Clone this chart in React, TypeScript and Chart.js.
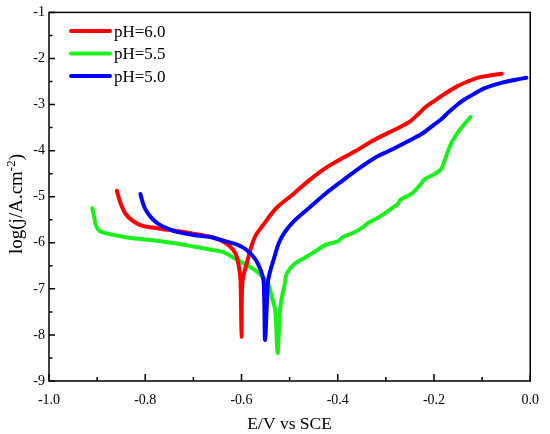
import React, { useEffect, useRef } from 'react';
import { Chart, registerables } from 'chart.js';

Chart.register(...registerables);

// pH = 6.0
const ph60E = [-0.859, -0.852, -0.841, -0.825, -0.807, -0.785, -0.766, -0.730, -0.697, -0.665, -0.643, -0.625, -0.613, -0.606, -0.602, -0.600, -0.598, -0.588, -0.580, -0.571, -0.554, -0.527, -0.492, -0.460, -0.424, -0.390, -0.363, -0.330, -0.294, -0.253, -0.233, -0.218, -0.199, -0.175, -0.151, -0.130, -0.110, -0.085, -0.059];
const ph60LogJ = [-4.87, -5.12, -5.37, -5.53, -5.63, -5.67, -5.70, -5.75, -5.81, -5.87, -5.95, -6.07, -6.22, -6.48, -6.82, -8.04, -6.85, -6.40, -6.10, -5.85, -5.60, -5.24, -4.94, -4.65, -4.37, -4.16, -4.01, -3.80, -3.61, -3.39, -3.21, -3.06, -2.92, -2.75, -2.60, -2.50, -2.42, -2.37, -2.33];

// pH = 5.5
const ph55E = [-0.910, -0.906, -0.902, -0.895, -0.882, -0.860, -0.834, -0.780, -0.732, -0.700, -0.663, -0.639, -0.615, -0.595, -0.571, -0.555, -0.544, -0.537, -0.530, -0.525, -0.520, -0.516, -0.510, -0.506, -0.489, -0.469, -0.455, -0.424, -0.400, -0.390, -0.363, -0.345, -0.335, -0.315, -0.294, -0.275, -0.270, -0.247, -0.230, -0.219, -0.199, -0.185, -0.178, -0.165, -0.150, -0.137, -0.124];
const ph55LogJ = [-5.25, -5.45, -5.63, -5.74, -5.79, -5.84, -5.89, -5.95, -6.02, -6.08, -6.15, -6.20, -6.33, -6.45, -6.60, -6.75, -6.90, -7.18, -7.46, -8.40, -7.46, -7.18, -6.89, -6.67, -6.45, -6.33, -6.24, -6.04, -5.97, -5.88, -5.76, -5.64, -5.56, -5.45, -5.30, -5.16, -5.07, -4.94, -4.76, -4.62, -4.51, -4.40, -4.22, -3.86, -3.60, -3.43, -3.27];

// pH = 5.0
const ph50E = [-0.810, -0.806, -0.800, -0.788, -0.773, -0.752, -0.732, -0.700, -0.663, -0.639, -0.609, -0.590, -0.571, -0.560, -0.554, -0.551, -0.545, -0.540, -0.533, -0.523, -0.510, -0.490, -0.458, -0.425, -0.390, -0.363, -0.322, -0.294, -0.253, -0.226, -0.199, -0.185, -0.171, -0.151, -0.137, -0.120, -0.096, -0.060, -0.030, -0.008];
const ph50LogJ = [-4.94, -5.10, -5.27, -5.45, -5.59, -5.70, -5.77, -5.83, -5.88, -5.95, -6.04, -6.15, -6.36, -6.60, -6.85, -8.11, -6.85, -6.60, -6.36, -6.02, -5.77, -5.52, -5.23, -4.93, -4.65, -4.44, -4.15, -4.01, -3.79, -3.64, -3.43, -3.32, -3.18, -3.00, -2.89, -2.79, -2.65, -2.53, -2.46, -2.42];

const seriesLabels = ['pH=6.0', 'pH=5.5', 'pH=5.0'];
const seriesColors = ['#ff0000', '#1cf01c', '#0000ff'];

const xMajorTicks = [-1.0, -0.8, -0.6, -0.4, -0.2, 0.0];
const yMajorTicks = [-9, -8, -7, -6, -5, -4, -3, -2, -1];

const FONT = '"Liberation Serif", "Times New Roman", serif';

const toPoints = (xs: number[], ys: number[]) => xs.map((x, i) => ({ x, y: ys[i] }));

// frame, inward ticks, axis titles and the legend
const decorPlugin = {
  id: 'decor',
  afterDraw(chart: any) {
    const { ctx, chartArea: a, scales } = chart;
    const xs = scales.x;
    const ys = scales.y;
    ctx.save();
    ctx.strokeStyle = '#000';
    ctx.lineWidth = 1.5;
    ctx.strokeRect(a.left, a.top, a.right - a.left, a.bottom - a.top);

    ctx.lineWidth = 1.5;
    ctx.beginPath();
    xMajorTicks.forEach((v, i) => {
      const px = xs.getPixelForValue(v);
      ctx.moveTo(px, a.bottom);
      ctx.lineTo(px, a.bottom - 7);
      if (i < xMajorTicks.length - 1) {
        const mx = xs.getPixelForValue(v + 0.1);
        ctx.moveTo(mx, a.bottom);
        ctx.lineTo(mx, a.bottom - 4);
      }
    });
    yMajorTicks.forEach((v, i) => {
      const py = ys.getPixelForValue(v);
      ctx.moveTo(a.left, py);
      ctx.lineTo(a.left + 6, py);
      if (i < yMajorTicks.length - 1) {
        const my = ys.getPixelForValue(v + 0.5);
        ctx.moveTo(a.left, my);
        ctx.lineTo(a.left + 3.5, my);
      }
    });
    ctx.stroke();

    // x title
    ctx.fillStyle = '#000';
    ctx.font = `17.5px ${FONT}`;
    ctx.textAlign = 'center';
    ctx.textBaseline = 'alphabetic';
    ctx.fillText('E/V vs SCE', (a.left + a.right) / 2, 429);

    // y title with superscript
    ctx.save();
    ctx.translate(22, 204);
    ctx.rotate(-Math.PI / 2);
    const mainFont = `19px ${FONT}`;
    const supFont = `13px ${FONT}`;
    const p1 = 'log(j/A.cm';
    const sup = '-2';
    const p2 = ')';
    ctx.font = mainFont;
    const w1 = ctx.measureText(p1).width;
    const w3 = ctx.measureText(p2).width;
    ctx.font = supFont;
    const w2 = ctx.measureText(sup).width;
    let x0 = -(w1 + w2 + w3) / 2;
    ctx.textAlign = 'left';
    ctx.font = mainFont;
    ctx.fillText(p1, x0, 0);
    x0 += w1;
    ctx.font = supFont;
    ctx.fillText(sup, x0, -7);
    x0 += w2;
    ctx.font = mainFont;
    ctx.fillText(p2, x0, 0);
    ctx.restore();

    // legend
    chart.data.datasets.forEach((ds: any, i: number) => {
      const ly = 31 + i * 22.5;
      ctx.strokeStyle = ds.borderColor;
      ctx.lineWidth = 4;
      ctx.lineCap = 'round';
      ctx.beginPath();
      ctx.moveTo(71, ly);
      ctx.lineTo(110, ly);
      ctx.stroke();
      ctx.fillStyle = '#000';
      ctx.font = `17px ${FONT}`;
      ctx.textAlign = 'left';
      ctx.textBaseline = 'alphabetic';
      ctx.fillText(ds.label, 114, ly + 5.5);
    });
    ctx.restore();
  },
};

const PolarizationChart: React.FC = () => {
  const canvasRef = useRef<HTMLCanvasElement>(null);
  const chartRef = useRef<Chart | null>(null);

  useEffect(() => {
    if (!canvasRef.current) return;
    if (chartRef.current) chartRef.current.destroy();

    const seriesData = [
      toPoints(ph60E, ph60LogJ),
      toPoints(ph55E, ph55LogJ),
      toPoints(ph50E, ph50LogJ),
    ];
    const drawOrder = [1, 2, 0];

    chartRef.current = new Chart(canvasRef.current, {
      type: 'line',
      data: {
        datasets: seriesData.map((data, i) => ({
          label: seriesLabels[i],
          data,
          borderColor: seriesColors[i],
          backgroundColor: seriesColors[i],
          borderWidth: 4,
          pointRadius: 0,
          tension: 0.3,
          borderCapStyle: 'round',
          borderJoinStyle: 'round',
          order: drawOrder[i],
          fill: false,
        })),
      },
      options: {
        animation: false,
        responsive: true,
        maintainAspectRatio: false,
        layout: { padding: { top: 11, right: 13, left: 0, bottom: 0 } },
        plugins: {
          legend: { display: false },
          tooltip: { enabled: false },
        },
        scales: {
          x: {
            type: 'linear',
            min: -1,
            max: 0,
            grid: { display: false, drawTicks: false },
            border: { display: false },
            ticks: {
              stepSize: 0.2,
              padding: 11,
              color: '#000',
              font: { family: FONT, size: 14 },
              callback: (v: any) => (Math.abs(Number(v)) < 1e-9 ? '0.0' : Number(v).toFixed(1)),
            },
            afterFit: (s: any) => {
              s.height = 53;
            },
          },
          y: {
            type: 'linear',
            min: -9,
            max: -1,
            grid: { display: false, drawTicks: false },
            border: { display: false },
            ticks: {
              stepSize: 1,
              padding: 4,
              color: '#000',
              font: { family: FONT, size: 14 },
              callback: (v: any) => String(Math.round(Number(v))),
            },
            afterFit: (s: any) => {
              s.width = 49;
            },
          },
        },
      },
      plugins: [decorPlugin],
    } as any);

    return () => {
      if (chartRef.current) {
        chartRef.current.destroy();
        chartRef.current = null;
      }
    };
  }, []);

  return (
    <div style={{ position: 'absolute', left: 0, top: 0, width: 550, height: 434, background: '#fff' }}>
      <canvas ref={canvasRef} />
    </div>
  );
};

export default function App() {
  return <PolarizationChart />;
}
